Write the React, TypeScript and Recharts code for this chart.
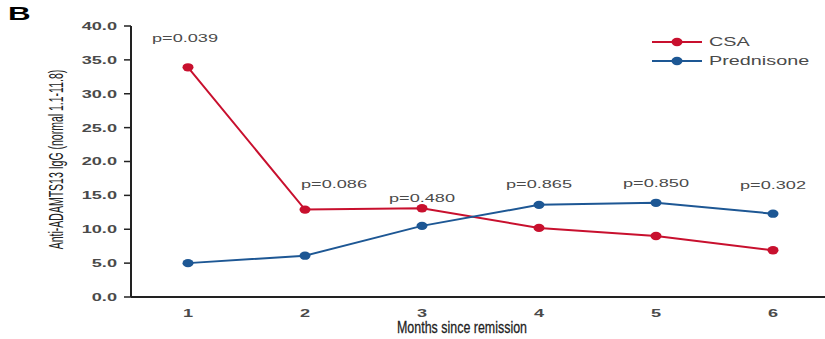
import React from 'react';
import { LineChart, Line, XAxis, YAxis, LabelList } from 'recharts';

const months = ['1', '2', '3', '4', '5', '6'];
const csa = [33.9, 12.9, 13.1, 10.2, 9.0, 6.9];
const prednisone = [5.0, 6.1, 10.5, 13.6, 13.9, 12.3];
const pValues = ['p=0.039', 'p=0.086', 'p=0.480', 'p=0.865', 'p=0.850', 'p=0.302'];
// height (in axis units) where each p-value sits
const pLevel = [38.2, 16.7, 14.6, 16.7, 16.8, 16.5];
const yTicks = [0, 5, 10, 15, 20, 25, 30, 35, 40];

const RED = '#c8102e';
const BLUE = '#1d5794';
const TEXT = '#4a4a4a';
const STRETCH = 1.65;

const data = months.map((m, i) => ({
  month: m,
  csa: csa[i],
  prednisone: prednisone[i],
  pLevel: pLevel[i],
  p: pValues[i],
}));

const YTick = (props: any) => {
  const { x, y, payload } = props;
  return (
    <text
      transform={`translate(${x},${y}) scale(${STRETCH},1)`}
      textAnchor="end"
      dy="0.36em"
      fontFamily="Liberation Sans, Arial, sans-serif"
      fontWeight="bold"
      fontSize={11}
      fill={TEXT}
    >
      {payload.value.toFixed(1)}
    </text>
  );
};

const XTick = (props: any) => {
  const { x, y, payload } = props;
  return (
    <text
      transform={`translate(${x},${y + 4}) scale(${STRETCH},1)`}
      textAnchor="middle"
      dy="0.71em"
      fontFamily="Liberation Sans, Arial, sans-serif"
      fontWeight="bold"
      fontSize={11}
      fill={TEXT}
    >
      {payload.value}
    </text>
  );
};

const YLabel = (props: any) => {
  const vb = props.viewBox;
  const cx = vb.x + 56;
  const cy = vb.y + vb.height / 2 - 2;
  return (
    <text
      transform={`translate(${cx},${cy}) rotate(-90) scale(1,1.9)`}
      textAnchor="middle"
      dy="0.36em"
      fontFamily="Liberation Sans Narrow, Arial Narrow, sans-serif"
      fontSize={10.5}
      fill="#222"
    >
      Anti-ADAMTS13 IgG (normal 1.1-11.8)
    </text>
  );
};

const XLabel = (props: any) => {
  const vb = props.viewBox;
  const cx = vb.x + vb.width / 2 - 16;
  const cy = vb.y + vb.height - 6;
  return (
    <text
      transform={`translate(${cx},${cy}) scale(0.83,1.1)`}
      textAnchor="middle"
      fontFamily="Liberation Sans Narrow, Arial Narrow, sans-serif"
      fontSize={15}
      fill="#222"
      stroke="#222"
      strokeWidth={0.25}
    >
      Months since remission
    </text>
  );
};

const PLabel = (props: any) => {
  const { x, y, value, index } = props;
  const shift = index === 1 ? 29 : index === 0 ? -3 : 0;
  return (
    <text
      transform={`translate(${x + shift},${y}) scale(${STRETCH},1)`}
      textAnchor="middle"
      dy="0.36em"
      fontFamily="Liberation Sans, Arial, sans-serif"
      fontSize={11}
      fill={TEXT}
    >
      {value}
    </text>
  );
};

const makeDot = (color: string) => (props: any) => {
  const { cx, cy, index } = props;
  return <ellipse key={`d-${index}`} cx={cx} cy={cy} rx={5.5} ry={4.2} fill={color} />;
};

const legendItems = [
  { name: 'CSA', color: RED },
  { name: 'Prednisone', color: BLUE },
];

export default function App() {
  return (
    <div style={{ position: 'fixed', left: 0, top: 0, width: 825, height: 339, background: '#fff' }}>
      <div
        style={{
          position: 'absolute',
          left: 8,
          top: 3,
          fontFamily: 'Liberation Sans, Arial, sans-serif',
          fontWeight: 'bold',
          fontSize: 19,
          transform: `scaleX(${STRETCH})`,
          transformOrigin: 'left top',
          color: '#000',
        }}
      >
        B
      </div>
      <div style={{ position: 'absolute', left: 651, top: 32 }}>
        {legendItems.map((it) => (
          <div key={it.name} style={{ display: 'flex', alignItems: 'center', height: 19.5 }}>
            <svg width={52} height={12}>
              <line x1={1} y1={6} x2={51} y2={6} stroke={it.color} strokeWidth={2} />
              <ellipse cx={26} cy={6} rx={5.5} ry={4.2} fill={it.color} />
            </svg>
            <span
              style={{
                marginLeft: 6,
                fontFamily: 'Liberation Sans, Arial, sans-serif',
                fontSize: 12,
                color: TEXT,
                display: 'inline-block',
                transform: `scaleX(${STRETCH})`,
                transformOrigin: 'left center',
              }}
            >
              {it.name}
            </span>
          </div>
        ))}
      </div>
      <LineChart width={825} height={339} data={data} margin={{ top: 26, right: 0, bottom: 0, left: 0 }}>
        <XAxis
          dataKey="month"
          height={42}
          padding={{ left: 57, right: 52 }}
          axisLine={{ stroke: '#222', strokeWidth: 2 }}
          tickLine={false}
          tick={<XTick />}
          label={{ content: <XLabel /> }}
        />
        <YAxis
          width={131}
          domain={[0, 40]}
          ticks={yTicks}
          interval={0}
          axisLine={{ stroke: '#222', strokeWidth: 2 }}
          tickLine={{ stroke: '#222', strokeWidth: 1.5 }}
          tickSize={7}
          tickMargin={7}
          tick={<YTick />}
          label={{ content: <YLabel /> }}
        />
        <Line
          dataKey="csa"
          name="CSA"
          stroke={RED}
          strokeWidth={2}
          dot={makeDot(RED)}
          activeDot={false}
          isAnimationActive={false}
        />
        <Line
          dataKey="prednisone"
          name="Prednisone"
          stroke={BLUE}
          strokeWidth={2}
          dot={makeDot(BLUE)}
          activeDot={false}
          isAnimationActive={false}
        />
        <Line
          dataKey="pLevel"
          stroke="none"
          dot={false}
          activeDot={false}
          legendType="none"
          isAnimationActive={false}
        >
          <LabelList dataKey="p" content={<PLabel />} />
        </Line>
      </LineChart>
    </div>
  );
}
